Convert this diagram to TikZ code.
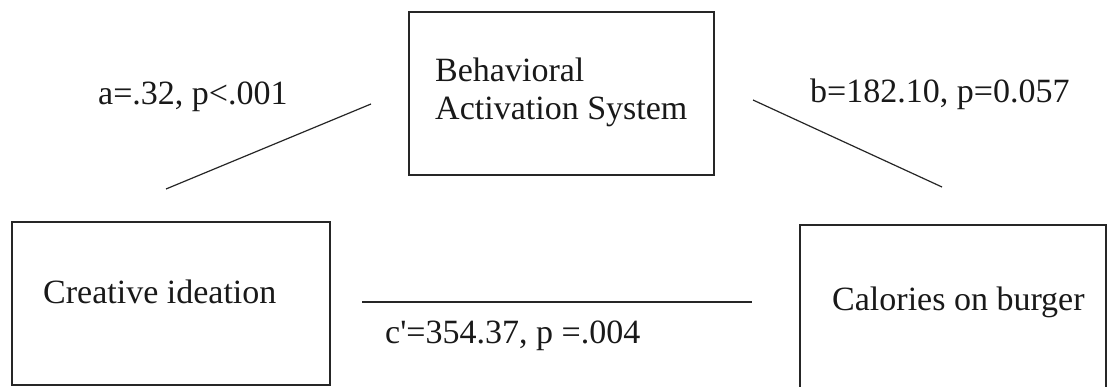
\documentclass[tikz,border=0pt]{standalone}
\usepackage{fontspec}
\setmainfont{Liberation Serif}
\begin{document}
\begin{tikzpicture}[x=1pt,y=-1pt,
  box/.style={draw=black!85, line width=1.3pt, rectangle, inner sep=0pt},
  txt/.style={inner sep=0pt, anchor=base west, font=\fontsize{34}{38}\selectfont, text=black!90},
  conn/.style={draw=black!85, line width=1.2pt}]
\useasboundingbox[fill=white] (0,0) rectangle (1108,387);
% boxes
\node[box, minimum width=305pt, minimum height=163pt] (bas) at (561.5,93.5) {};
\node[box, minimum width=318pt, minimum height=163pt] (ci) at (171,303.5) {};
\node[box, minimum width=306pt, minimum height=165pt] (cb) at (953,307.5) {};
% box texts
\node[txt] (bast1) at (435,82) {Behavioral};
\node[txt] (bast2) at (435,120) {Activation System};
\node[txt] (cit) at (43,304) {Creative ideation};
\node[txt] (cbt) at (832,310) {Calories on burger};
% path labels
\node[txt] (la) at (98,105) {a=.32, p<.001};
\node[txt] (lb) at (810,103) {b=182.10, p=0.057};
\node[txt] (lc) at (385,343) {c\textquotesingle=354.37, p =.004};
% connector end points
\coordinate (a1) at (166,189);
\coordinate (a2) at (371,104);
\coordinate (b1) at (753,100);
\coordinate (b2) at (942,187);
\coordinate (c1) at (362,302);
\coordinate (c2) at (752,302);
\draw[conn] (a1) -- (a2);
\draw[conn] (b1) -- (b2);
\draw[conn] (c1) -- (c2);
\end{tikzpicture}
\end{document}
